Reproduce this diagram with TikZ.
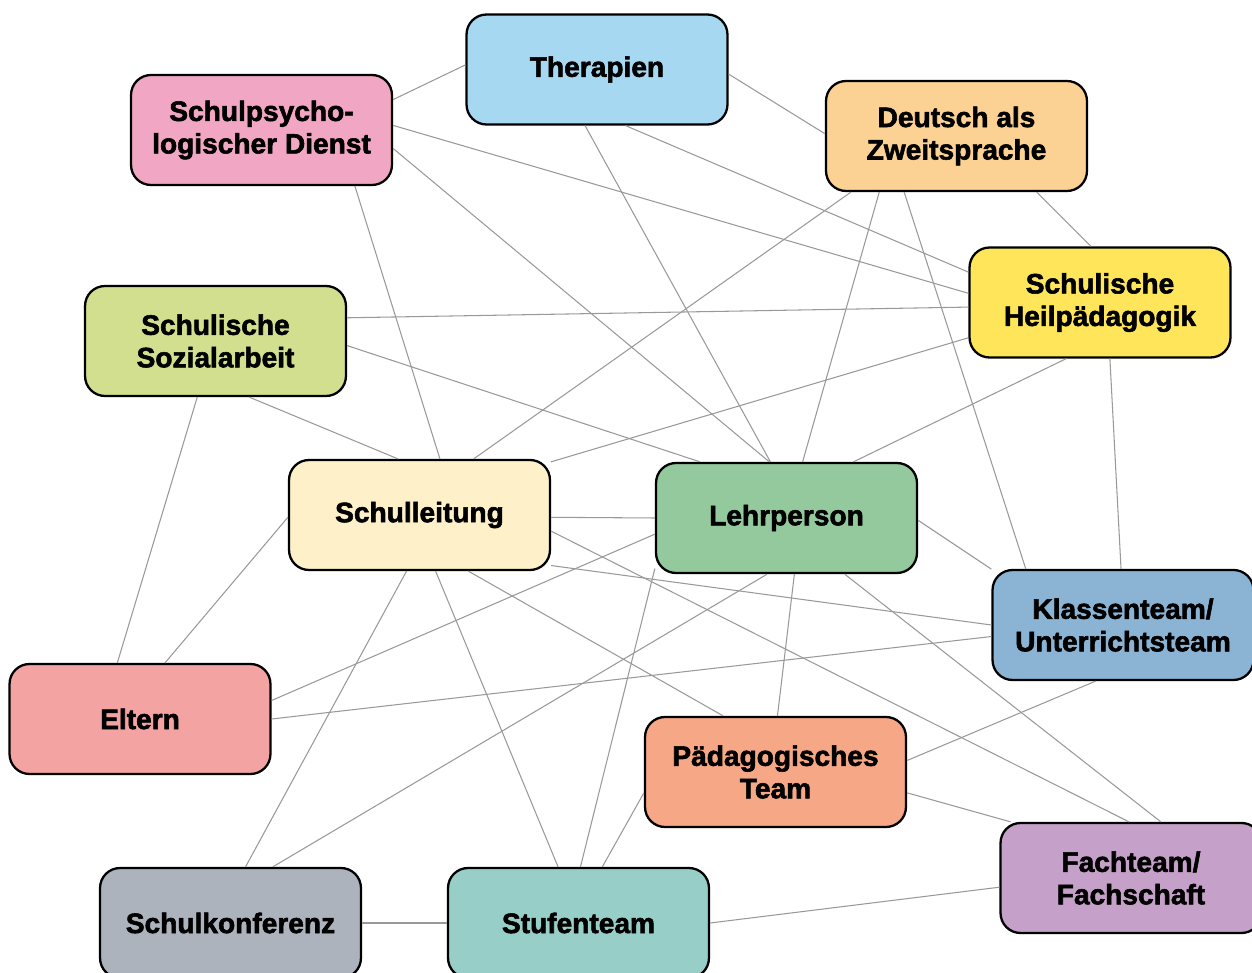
\documentclass[tikz,border=0pt]{standalone}
\usepackage{fontspec}
\setmainfont{Liberation Sans}[BoldFeatures={FakeBold=2}]

\definecolor{thcol}{HTML}{A6D8F2}
\definecolor{spcol}{HTML}{F1A7C3}
\definecolor{dzcol}{HTML}{FBD293}
\definecolor{hpcol}{HTML}{FEE55A}
\definecolor{sacol}{HTML}{D2DF8E}
\definecolor{slcol}{HTML}{FEF0C8}
\definecolor{lpcol}{HTML}{93C99D}
\definecolor{ktcol}{HTML}{8BB3D4}
\definecolor{elcol}{HTML}{F4A3A3}
\definecolor{ptcol}{HTML}{F6A886}
\definecolor{ftcol}{HTML}{C5A0C8}
\definecolor{skcol}{HTML}{ADB3BD}
\definecolor{stcol}{HTML}{97CFC8}

\begin{document}
\begin{tikzpicture}[
    x=0.02cm, y=-0.02cm,
    every node/.style={minimum width=5.22cm, minimum height=2.2cm, rounded corners=0.4cm,
        draw=black, line width=1.3pt, align=center, inner sep=0pt,
        font=\bfseries\fontsize{16}{18.5}\selectfont},
    link/.style={draw=black!40, line width=0.6pt}
]

% Page frame
\clip (0,0) rectangle (1252,973);

% Top row
\node[fill=thcol] (th) at (597, 69.5) {Therapien};
\node[fill=spcol] (sp) at (261.5, 130) {Schulpsycho-\\logischer Dienst};
\node[fill=dzcol] (dz) at (956.5, 136) {Deutsch als\\Zweitsprache};

% Middle
\node[fill=hpcol] (hp) at (1100, 302.5) {Schulische\\Heilpädagogik};
\node[fill=sacol] (sa) at (215.5, 341) {Schulische\\Sozialarbeit};
\node[fill=slcol] (sl) at (419.5, 515) {Schulleitung};
\node[fill=lpcol] (lp) at (786.5, 518) {Lehrperson};
\node[fill=ktcol] (kt) at (1123, 625) {Klassenteam/\\Unterrichtsteam};

% Bottom
\node[fill=elcol] (el) at (140, 719) {Eltern};
\node[fill=ptcol] (pt) at (775.5, 772) {Pädagogisches\\Team};
\node[fill=ftcol] (ft) at (1131, 878) {Fachteam/\\Fachschaft};
\node[fill=skcol] (sk) at (230.5, 923) {Schulkonferenz};
\node[fill=stcol] (st) at (578.5, 923) {Stufenteam};

% Links
\foreach \i/\j in {sp.13/th.178, th.358/dz.179, sp.2/hp.176, sp.352/lp.107,
                   sp.329/sl.70, th.258/lp.106, th.297/hp.167, dz.325/hp.99,
                   dz.208/sl.46, dz.216/lp.74, dz.227/kt.150, sa.10/hp.182,
                   sa.358/lp.147, sa.301/sl.111, sa.252/el.112, hp.195/sl.22,
                   hp.239/lp.40, hp.280/kt.92, sl.359/lp.west, sl.181/el.66,
                   sl.339/kt.180, sl.353/ft.92, sl.257/sk.75, sl.286/st.110,
                   sl.311/pt.133, lp.187/el.8, lp.359/kt.157, lp.251/sk.53,
                   lp.278/pt.88, lp.316/ft.62, lp.201/st.88, kt.185/el.0,
                   kt.244/pt.5, pt.351/ft.155, pt.189/st.67, sk.east/st.west,
                   st.east/ft.184}
    \draw[link] (\i) -- (\j);

\end{tikzpicture}
\end{document}
